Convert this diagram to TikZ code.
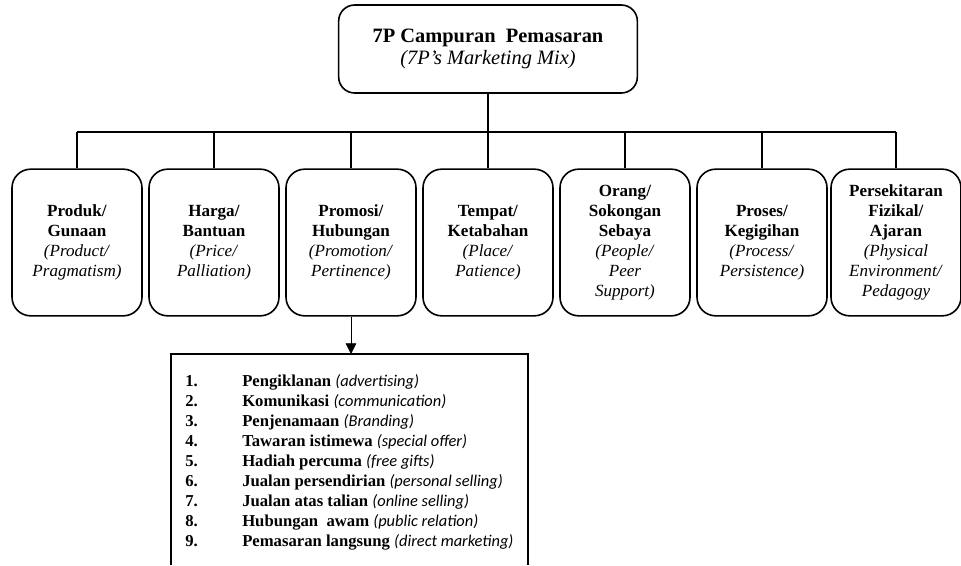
\documentclass[tikz,border=0pt]{standalone}
\usepackage{fontspec}
\setmainfont{Liberation Serif}
\newfontfamily\lstitfont{Carlito}
\usetikzlibrary{arrows.meta}

\tikzset{
  pbox/.style={draw, line width=1.2pt, rounded corners=14pt, minimum width=97.5pt, minimum height=110pt,
    align=center, font=\fontsize{12.8}{15}\selectfont},
  topbox/.style={draw, line width=1.2pt, rounded corners=12pt, minimum width=224pt, minimum height=66pt,
    align=center, font=\fontsize{15.3}{16.8}\selectfont},
  link/.style={line width=1.3pt},
  lstitem/.style={anchor=base west, inner sep=0pt, font=\fontsize{12.5}{15}\selectfont}
}

\begin{document}
\begin{tikzpicture}[x=0.75pt, y=-0.75pt]
  \useasboundingbox (0,0) rectangle (961,565);

  % top box
  \node[topbox] (mix) at (488,49) {\textbf{7P Campuran\ \ Pemasaran}\\\textit{(7P's Marketing Mix)}};

  % the seven P boxes
  \node[pbox] (produk)   at (77,242.5)  {\textbf{Produk/}\\\textbf{Gunaan}\\\textit{(Product/}\\\textit{Pragmatism)}};
  \node[pbox] (harga)    at (214,242.5) {\textbf{Harga/}\\\textbf{Bantuan}\\\textit{(Price/}\\\textit{Palliation)}};
  \node[pbox] (promosi)  at (351,242.5) {\textbf{Promosi/}\\\textbf{Hubungan}\\\textit{(Promotion/}\\\textit{Pertinence)}};
  \node[pbox] (tempat)   at (488,242.5) {\textbf{Tempat/}\\\textbf{Ketabahan}\\\textit{(Place/}\\\textit{Patience)}};
  \node[pbox] (orang)    at (625,242.5) {\textbf{Orang/}\\\textbf{Sokongan}\\\textbf{Sebaya}\\\textit{(People/}\\\textit{Peer}\\\textit{Support)}};
  \node[pbox] (proses)   at (762,242.5) {\textbf{Proses/}\\\textbf{Kegigihan}\\\textit{(Process/}\\\textit{Persistence)}};
  \node[pbox] (fizikal)  at (896,242.5) {\textbf{Persekitaran}\\\textbf{Fizikal/}\\\textbf{Ajaran}\\\textit{(Physical}\\\textit{Environment/}\\\textit{Pedagogy}};

  % connectors
  \coordinate (bar) at (0,132);
  \draw[link] (mix.south) -- (mix.south |- bar);
  \draw[link] (produk.north |- bar) -- (fizikal.north |- bar);
  \foreach \n in {produk,harga,promosi,tempat,orang,proses,fizikal}
    \draw[link] (\n.north |- bar) -- (\n.north);

  % list of promotion items
  \coordinate (lsttl) at (171,354);
  \coordinate (lsttr) at (528,354);
  \draw[line width=1.2pt] (lsttl |- 0,565) -- (lsttl) -- (lsttr) -- (lsttr |- 0,565);
  \draw[line width=0.6pt, -{Triangle[length=8pt, width=8pt]}] (promosi.south) -- (promosi.south |- lsttl);

  \foreach \i/\bm/\en in {1/Pengiklanan/advertising, 2/Komunikasi/communication, 3/Penjenamaan/Branding,
      4/Tawaran istimewa/special offer, 5/Hadiah percuma/free gifts, 6/Jualan persendirian/personal selling,
      7/Jualan atas talian/online selling, 8/Hubungan\ \ awam/public relation, 9/Pemasaran langsung/direct marketing} {
    \node[lstitem] (num\i) at (185,386+20*\i-20) {\textbf{\i.}};
    \node[lstitem] (item\i) at (242,386+20*\i-20) {\textbf{\bm} {\lstitfont\fontsize{12.3}{15}\selectfont\itshape(\en)}};
  }
\end{tikzpicture}
\end{document}
